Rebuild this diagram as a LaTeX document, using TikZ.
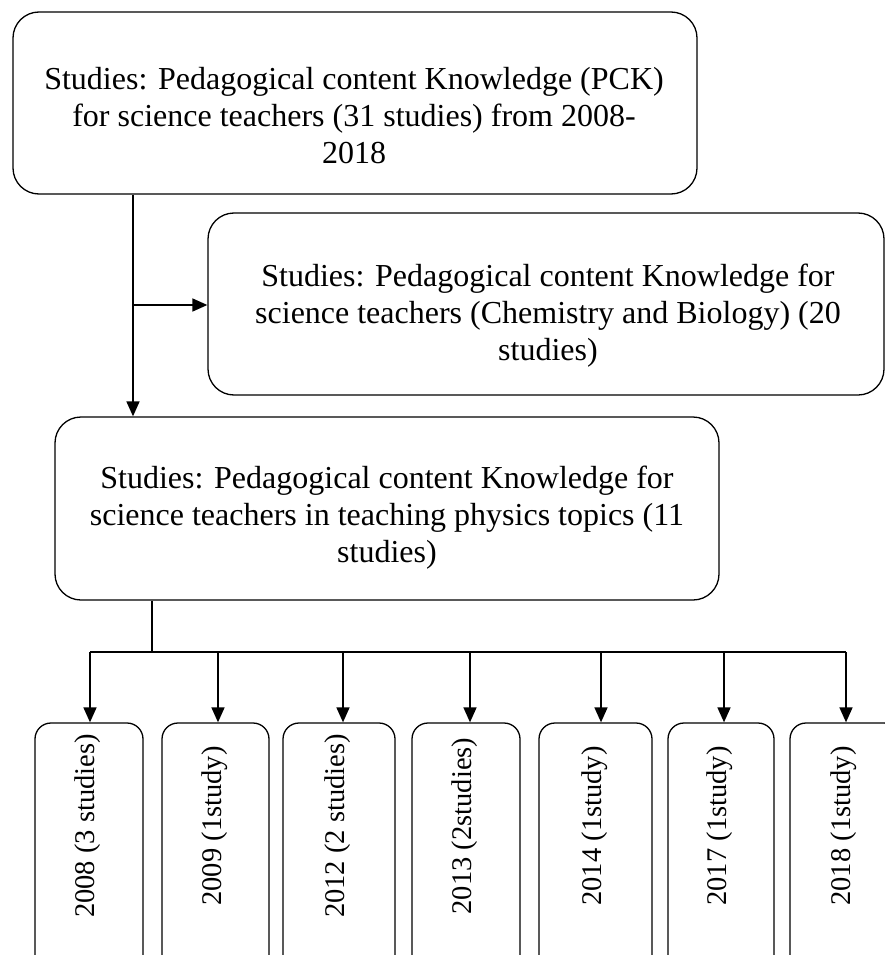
\documentclass[tikz,border=0pt]{standalone}
\usepackage{fontspec}
\setmainfont{Liberation Serif}
\usetikzlibrary{arrows.meta}

\tikzset{
	bigbox/.style={draw, rounded corners=26pt, line width=1.3pt, inner sep=0pt},
	yearbox/.style={draw, rounded corners=16pt, line width=1.3pt, inner sep=0pt, minimum height=260pt},
	boxtext/.style={align=center, font=\fontsize{32}{37}\selectfont, inner sep=0pt},
	yeartext/.style={rotate=90, font=\fontsize{28.5}{32}\selectfont, inner sep=0pt},
	link/.style={line width=1.6pt, -{Triangle[length=15pt,width=13pt]}},
}

\begin{document}
\begin{tikzpicture}[x=1pt,y=-1pt]
	\useasboundingbox (0,0) rectangle (885,955);
	\clip (0,0) rectangle (885,955);
	
	%All PCK studies
	\node[bigbox, minimum width=684pt, minimum height=182pt] (pck) at (355,103) {};
	\node[boxtext] (pckT) at (354,116) {Studies: Pedagogical content Knowledge (PCK)\\for science teachers (31 studies) from 2008-\\2018};
	
	%Chemistry and Biology
	\node[bigbox, minimum width=676pt, minimum height=182pt] (chem) at (546,304) {};
	\node[boxtext] (chemT) at (548,316) {Studies: Pedagogical content Knowledge for\\science teachers (Chemistry and Biology) (20\\studies)};
	
	%Physics
	\node[bigbox, minimum width=664pt, minimum height=183pt] (phys) at (387,508.5) {};
	\node[boxtext] (physT) at (387,518) {Studies: Pedagogical content Knowledge for\\science teachers in teaching physics topics (11\\studies)};
	
	\coordinate (split) at (133,305);
	\draw[link] (pck.south -| split) -- (phys.north -| split);
	\draw[link] (split) -- (chem.west |- split);
	
	%One box per year
	\foreach \n/\cx/\w/\ax/\txt in {a/89/108/90/2008 (3 studies), b/215.5/107/218/2009 (1study), c/339/112/343/2012 (2 studies), d/466/108/470/2013 (2studies), e/595.5/113/601/2014 (1study), f/721/106/724/2017 (1study), g/845/110/846/2018 (1study)}{
		\node[yearbox, minimum width=\w pt] (y\n) at (\cx,853) {};
		\node[yeartext] (t\n) at (\cx-1,826) {\txt};
		\coordinate (bus\n) at (\ax,652);
		\draw[link] (bus\n) -- (bus\n |- y\n.north);
	}
	\draw[line width=1.6pt] (busa) -- (busg);
	\coordinate (stem) at (152,652);
	\draw[line width=1.3pt] (stem |- phys.south) -- (stem);
\end{tikzpicture}
\end{document}
